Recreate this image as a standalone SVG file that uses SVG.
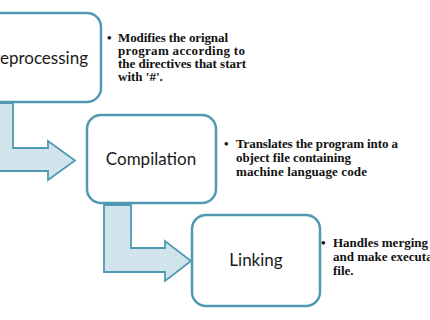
<svg xmlns="http://www.w3.org/2000/svg" width="430" height="320" viewBox="0 0 430 320">
<style>
.box{fill:#ffffff;stroke:#4f9ab2;stroke-width:2.5}
.arrow{fill:#d2e4eb;stroke:#4f9ab2;stroke-width:1.8;stroke-linejoin:miter}
.lbl{font-family:Lato,"Open Sans",sans-serif;font-size:17px;fill:#1a1a1a;text-anchor:middle}
.note{font-family:"Liberation Serif","Times New Roman",serif;font-size:13px;font-weight:bold;fill:#111111}
</style>
<rect width="430" height="320" fill="#ffffff"/>
<g id="connectors">
<path class="arrow" d="M -13,103 L 13,103 L 13,148 L 48,148 L 48,141 L 75,160.5 L 48,180 L 48,171 L -13,171 Z"/>
<path class="arrow" d="M 104,205 L 131,205 L 131,248 L 165,248 L 165,241 L 191,261 L 165,281 L 165,272 L 104,272 Z"/>
</g>
<g id="preprocessing">
<rect class="box" x="-28" y="13" width="129" height="89" rx="14"/>
<text class="lbl" x="36" y="64">Preprocessing</text>
</g>
<g id="compilation">
<rect class="box" x="87" y="115" width="129" height="88" rx="14"/>
<text class="lbl" x="151" y="165">Compilation</text>
</g>
<g id="linking">
<rect class="box" x="192" y="215" width="128" height="91" rx="14"/>
<text class="lbl" x="256" y="266">Linking</text>
</g>
<g id="note-preprocessing" class="note">
<text x="107" y="42">•</text>
<text x="118" y="42" textLength="110" lengthAdjust="spacing">Modifies the orignal</text>
<text x="118" y="55" textLength="127" lengthAdjust="spacing">program according to</text>
<text x="118" y="68" textLength="128" lengthAdjust="spacing">the directives that start</text>
<text x="118" y="81">with '#'.</text>
</g>
<g id="note-compilation" class="note">
<text x="224" y="148">•</text>
<text x="236" y="148" textLength="162" lengthAdjust="spacing">Translates the program into a</text>
<text x="236" y="162" textLength="115" lengthAdjust="spacing">object file containing</text>
<text x="236" y="176" textLength="131" lengthAdjust="spacing">machine language code</text>
</g>
<g id="note-linking" class="note">
<text x="321" y="247">•</text>
<text x="333" y="247" textLength="95" lengthAdjust="spacing">Handles merging</text>
<text x="333" y="261">and make executable</text>
<text x="333" y="275">file.</text>
</g>
</svg>
